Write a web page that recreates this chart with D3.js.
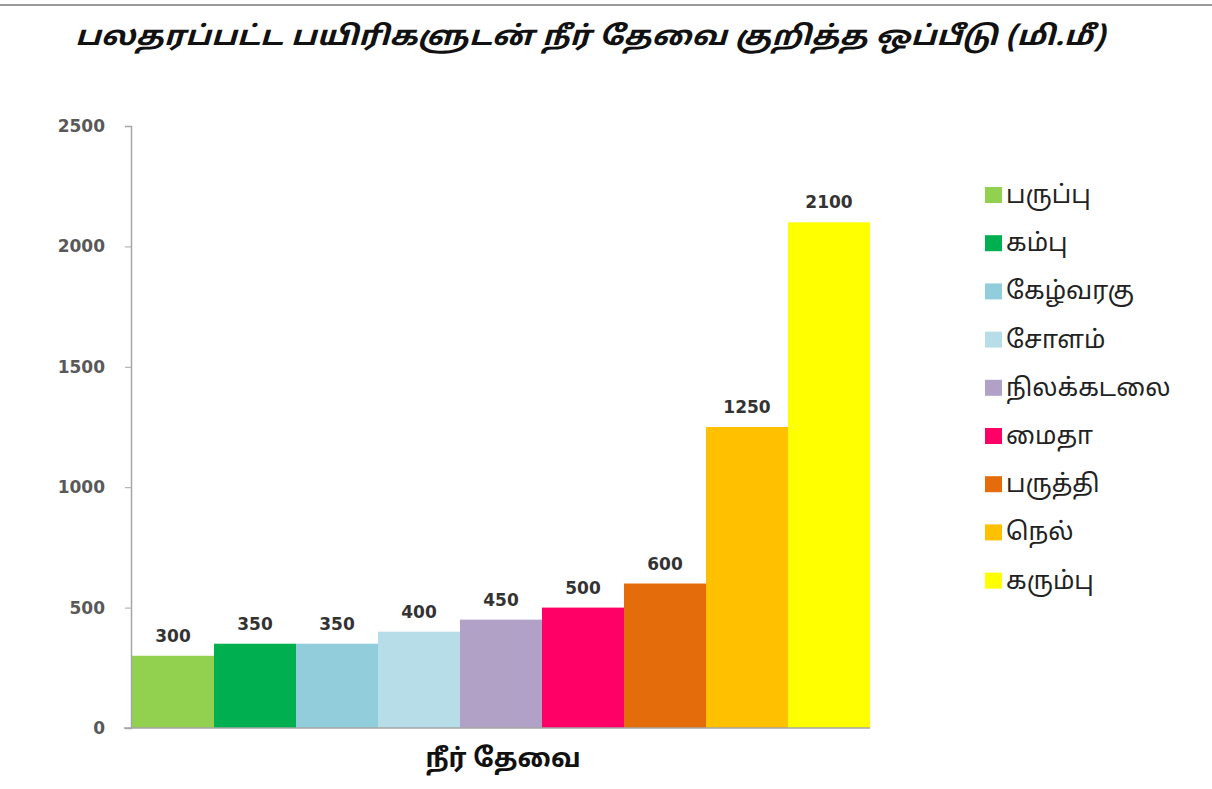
<!DOCTYPE html>
<html>
<head>
<meta charset="utf-8">
<script src="https://cdn.jsdelivr.net/npm/d3@7"></script>
<style>
  body { margin: 0; background: #fff; }
  svg { display: block; }
</style>
</head>
<body>
<div id="chart"></div>
<script>
const crops = ['பருப்பு', 'கம்பு', 'கேழ்வரகு', 'சோளம்', 'நிலக்கடலை', 'மைதா', 'பருத்தி', 'நெல்', 'கரும்பு']
const waterNeed = [300, 350, 350, 400, 450, 500, 600, 1250, 2100]
const cropColors = ['#92d050', '#00b050', '#92cddc', '#b7dee8', '#b2a1c7', '#ff0066', '#e46c0a', '#ffc000', '#ffff00']
const yTicks = [0, 500, 1000, 1500, 2000, 2500]
const chartTitle = 'பலதரப்பட்ட பயிரிகளுடன் நீர் தேவை குறித்த ஒப்பீடு (மி.மீ)'
const xTitle = 'நீர் தேவை'

const width = 1212
const height = 789
const tamilFont = '"Noto Sans Tamil", "Lohit Tamil", "Latha", "Noto Sans", sans-serif'
const numFont = '"DejaVu Sans", Verdana, sans-serif'

const svg = d3.select('#chart')
  .append('svg')
  .attr('width', width)
  .attr('height', height)

// thin border line at top
svg.append('line')
  .attr('x1', 0).attr('x2', width)
  .attr('y1', 5).attr('y2', 5)
  .attr('stroke', '#9a9a9a')
  .attr('stroke-width', 2)

svg.append('text')
  .attr('x', 590)
  .attr('y', 45)
  .attr('text-anchor', 'middle')
  .attr('textLength', 1030)
  .attr('lengthAdjust', 'spacingAndGlyphs')
  .style('font-family', tamilFont)
  .style('font-size', '27px')
  .style('font-weight', 'bold')
  .style('font-style', 'italic')
  .attr('fill', '#111')
  .text(chartTitle)

const xScale = d3.scaleBand()
  .domain(crops)
  .range([132, 870])
  .padding(0)

const yScale = d3.scaleLinear()
  .domain([0, 2500])
  .range([728, 126])

const chartCore = svg.append('g')

chartCore.append('g')
  .selectAll('rect')
  .data(crops)
  .join('rect')
  .attr('x', d => xScale(d))
  .attr('y', (d, i) => yScale(waterNeed[i]))
  .attr('width', xScale.bandwidth())
  .attr('height', (d, i) => yScale(0) - yScale(waterNeed[i]))
  .attr('fill', (d, i) => cropColors[i])

chartCore.append('g')
  .selectAll('text')
  .data(crops)
  .join('text')
  .attr('x', d => xScale(d) + xScale.bandwidth() / 2)
  .attr('y', (d, i) => yScale(waterNeed[i]) - 14)
  .attr('text-anchor', 'middle')
  .style('font-family', numFont)
  .style('font-size', '17px')
  .style('font-weight', 'bold')
  .attr('fill', '#333')
  .text((d, i) => waterNeed[i])

// y axis
const yAxis = d3.axisLeft(yScale)
  .tickValues(yTicks)
  .tickFormat(d3.format('d'))
  .tickSize(6)
  .tickPadding(20)
chartCore.append('g')
  .attr('transform', 'translate(131,0)')
  .call(yAxis)
  .call(g => {
    g.select('.domain').attr('stroke', '#a6a6a6').attr('stroke-width', 1.5)
    g.selectAll('.tick line').attr('stroke', '#a6a6a6')
    g.selectAll('.tick text')
      .style('font-family', numFont)
      .style('font-size', '17px')
      .style('font-weight', '600')
      .attr('fill', '#595959')
  })

// x baseline
chartCore.append('line')
  .attr('x1', 124).attr('x2', 870)
  .attr('y1', yScale(0)).attr('y2', yScale(0))
  .attr('stroke', '#a6a6a6')
  .attr('stroke-width', 1.5)

svg.append('text')
  .attr('x', 503)
  .attr('y', 767)
  .attr('text-anchor', 'middle')
  .style('font-family', tamilFont)
  .style('font-size', '26px')
  .style('font-weight', 'bold')
  .attr('fill', '#111')
  .text(xTitle)

// legend
const legend = svg.append('g')
  .selectAll('g')
  .data(crops)
  .join('g')
  .attr('transform', (d, i) => `translate(985, ${195 + i * 48.2})`)

legend.append('rect')
  .attr('x', 0)
  .attr('y', -8)
  .attr('width', 17)
  .attr('height', 16)
  .attr('fill', (d, i) => cropColors[i])

legend.append('text')
  .attr('x', 21)
  .attr('y', 1)
  .attr('dominant-baseline', 'middle')
  .style('font-family', tamilFont)
  .style('font-size', '25px')
  .attr('fill', '#222')
  .text(d => d)
</script>
</body>
</html>
